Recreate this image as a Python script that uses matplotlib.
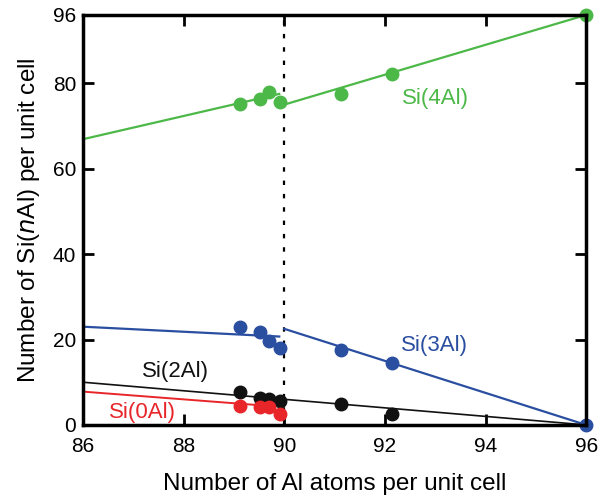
import matplotlib
matplotlib.use("Agg")
from matplotlib import pyplot as plt

plt.rcParams['font.family'] = ['Liberation Sans', 'DejaVu Sans']

# measured points: Al atoms per unit cell
al_left = [89.12, 89.51, 89.70, 89.92]
al_right = [91.13, 92.14, 96.0]

si4_left = [75.2, 76.3, 77.9, 75.6]
si4_right = [77.4, 82.2, 96.0]
si3_left = [23.0, 21.8, 19.6, 18.0]
si3_right = [17.5, 14.5, 0.0]
si2_left = [7.6, 6.3, 6.0, 5.6]
si2_right = [5.0, 2.5]
si0_left = [4.5, 4.2, 4.3, 2.6]

# fitted lines (end points)
fit4_x = [[86, 89.9], [90, 96]]
fit4_y = [[66.9, 77.5], [75.0, 96.0]]
fit3_x = [[86, 89.9], [90, 96]]
fit3_y = [[23.0, 20.7], [22.5, 0.0]]
fit2_x = [86, 96]
fit2_y = [10.0, 0.0]
fit0_x = [86, 89.75]
fit0_y = [7.8, 4.4]

green = "#4cb848"
blue = "#2a4ea0"
red = "#e8262a"
black = "#111111"

fig = plt.figure(figsize=(5.99, 4.97), dpi=100)
ax = fig.add_axes([0.1386, 0.145, 0.840, 0.825])

ax.plot([90, 90], [0, 96], color="black", lw=1.6, ls=(0, (2, 4)))

for xs, ys in zip(fit4_x, fit4_y):
    ax.plot(xs, ys, color=green, lw=1.6)
for xs, ys in zip(fit3_x, fit3_y):
    ax.plot(xs, ys, color=blue, lw=1.6)
ax.plot(fit2_x, fit2_y, color=black, lw=1.2)
ax.plot(fit0_x, fit0_y, color=red, lw=1.4)

ms = 9
ax.plot(al_left + al_right, si4_left + si4_right, "o", color=green, ms=ms, clip_on=False)
ax.plot(al_left + al_right, si3_left + si3_right, "o", color=blue, ms=ms, clip_on=False)
ax.plot(al_left + al_right[:2], si2_left + si2_right, "o", color=black, ms=ms, clip_on=False)
ax.plot(al_left, si0_left, "o", color=red, ms=ms, clip_on=False)

ax.text(93.0, 76.4, "Si(4Al)", color=green, fontsize=16, ha="center", va="center")
ax.text(92.98, 18.7, "Si(3Al)", color=blue, fontsize=16, ha="center", va="center")
ax.text(87.84, 12.6, "Si(2Al)", color=black, fontsize=16, ha="center", va="center")
ax.text(87.19, 2.8, "Si(0Al)", color=red, fontsize=16, ha="center", va="center")

ax.set_xlim(86, 96)
ax.set_ylim(0, 96)
ax.set_xticks([86, 88, 90, 92, 94, 96])
ax.set_yticks([0, 20, 40, 60, 80, 96])
ax.tick_params(direction="in", length=8, width=2, labelsize=15, top=True, right=True)
ax.tick_params(axis="x", pad=9)
ax.tick_params(axis="y", pad=5)
for s in ax.spines.values():
    s.set_linewidth(2.5)

ax.set_xlabel("Number of Al atoms per unit cell", fontsize=17.5, labelpad=12)
ax.set_ylabel("Number of Si($\\it{n}$Al) per unit cell", fontsize=17.5, labelpad=8)

fig.savefig("out.png", dpi=100)
